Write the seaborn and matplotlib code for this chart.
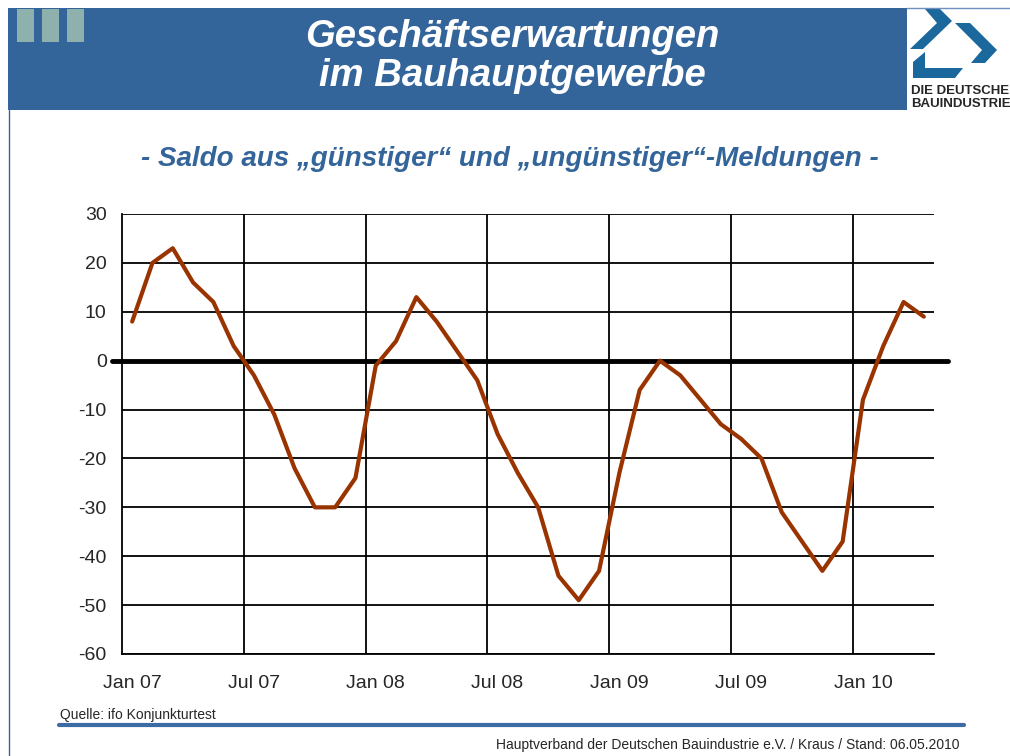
import matplotlib
matplotlib.use("Agg")
import pandas as pd
import matplotlib.pyplot as plt
import seaborn as sns
from matplotlib.patches import Rectangle, Polygon
from matplotlib.lines import Line2D

# Saldo der Geschäftserwartungen, monatlich Jan 07 bis Apr 10
saldo = [8, 20, 23, 16, 12, 3, -3, -11, -22, -30, -30, -24,
         -1, 4, 13, 8, 2, -4, -15, -23, -30, -44, -49, -43,
         -23, -6, 0, -3, -8, -13, -16, -20, -31, -37, -43, -37,
         -8, 3, 12, 9]
monat = list(range(len(saldo)))
tick_labels = ["Jan 07", "Jul 07", "Jan 08", "Jul 08", "Jan 09", "Jul 09", "Jan 10"]
tick_pos = [0, 6, 12, 18, 24, 30, 36]
y_ticks = [-60, -50, -40, -30, -20, -10, 0, 10, 20, 30]

daten = pd.DataFrame({"monat": monat, "saldo": saldo})

sns.set_style("white")
plt.rcParams["font.family"] = ["Liberation Sans", "DejaVu Sans"]

blau = "#34659a"
logo_blau = "#1a689c"

fig = plt.figure(figsize=(10.1, 7.56), dpi=100)

# Hintergrund / Folienrahmen in Pixelkoordinaten
bg = fig.add_axes([0, 0, 1, 1], zorder=0)
bg.set_xlim(0, 1010)
bg.set_ylim(756, 0)
bg.axis("off")
bg.add_patch(Rectangle((8, 8), 899, 102, color=blau, lw=0))
bg.add_line(Line2D([907, 1010], [7.5, 7.5], color="#6f8fbf", lw=1))
bg.add_line(Line2D([8.5, 8.5], [110, 756], color=blau, lw=1))
for x0 in [17, 42, 67]:
    bg.add_patch(Rectangle((x0, 9), 16.5, 33, color="#8fb1ae", lw=0))
bg.text(512, 37, "Geschäftserwartungen", color="white", fontsize=27.5,
        fontweight="bold", fontstyle="italic", ha="center", va="center")
bg.text(512, 76, "im Bauhauptgewerbe", color="white", fontsize=27.5,
        fontweight="bold", fontstyle="italic", ha="center", va="center")

# Logo
bg.add_patch(Polygon([(925, 9), (940, 9), (952, 21), (923, 49), (910, 49), (937, 23)],
                     color=logo_blau, lw=0))
bg.add_patch(Polygon([(955, 23), (970, 23), (997, 50), (985, 63), (971, 63), (982, 50)],
                     color=logo_blau, lw=0))
bg.add_patch(Polygon([(913, 62), (925, 52), (925, 68), (963, 68), (955, 78), (913, 78)],
                     color=logo_blau, lw=0))
bg.text(911, 91, "DIE DEUTSCHE", fontsize=9.5, fontweight="bold", va="center")
bg.text(911, 104, "BAUINDUSTRIE", fontsize=9.5, fontweight="bold", va="center")

bg.text(510, 159, "- Saldo aus „günstiger“ und „ungünstiger“-Meldungen -",
        color=blau, fontsize=20, fontweight="bold", fontstyle="italic",
        ha="center", va="center")

# Fußzeile
bg.text(60, 715, "Quelle: ifo Konjunkturtest", fontsize=10, va="center")
bg.add_line(Line2D([59, 964], [725, 725], color="#3d6ba6", lw=3,
                   solid_capstyle="round"))
bg.text(960, 745, "Hauptverband der Deutschen Bauindustrie e.V. / Kraus / Stand: 06.05.2010",
        fontsize=10, ha="right", va="center")

# Diagramm
ax = fig.add_axes([122 / 1010, 1 - 654 / 756, 812 / 1010, 440 / 756], zorder=1)
ax.patch.set_alpha(0)
sns.lineplot(data=daten, x="monat", y="saldo", ax=ax, color="#993300",
             linewidth=3, zorder=4)
ax.axhline(0, xmin=-0.012, xmax=1.017, color="black", lw=3.5, clip_on=False, zorder=3)

ax.set_xlim(-0.5, len(saldo) - 0.5)
ax.set_ylim(-60, 30)
ax.set_yticks(y_ticks)
ax.set_yticklabels([str(v) for v in y_ticks], fontsize=14)
ax.set_xticks(tick_pos)
ax.set_xticklabels(tick_labels, fontsize=14)
ax.set_xticks([p - 0.5 for p in tick_pos[1:]], minor=True)
ax.tick_params(axis="x", which="both", length=0, pad=15)
ax.tick_params(axis="y", length=5, width=1.3, color="black", direction="out", pad=6)
ax.grid(False)
ax.yaxis.grid(True, color="black", lw=1.3)
ax.xaxis.grid(True, which="minor", color="black", lw=1.3)
ax.set_axisbelow(True)
ax.set_xlabel("")
ax.set_ylabel("")
for s in ["top", "right"]:
    ax.spines[s].set_visible(False)
for s in ["left", "bottom"]:
    ax.spines[s].set_color("black")
    ax.spines[s].set_linewidth(1.3)

fig.savefig("out.png", dpi=100)
